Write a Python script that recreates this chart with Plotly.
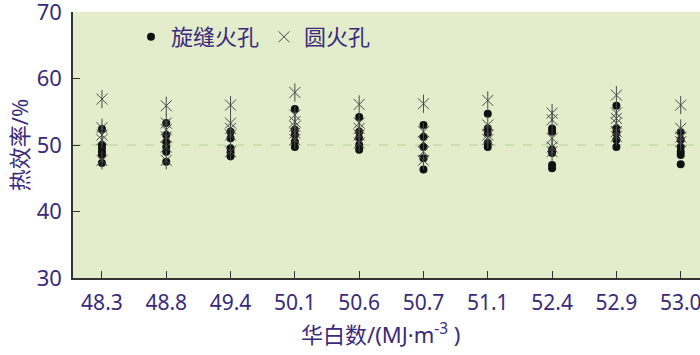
import plotly.graph_objects as go

categories = ["48.3", "48.8", "49.4", "50.1", "50.6", "50.7", "51.1", "52.4", "52.9", "53.0"]

slot_values = [
    [52.4, 50.0, 49.5, 49.0, 48.5, 47.3],
    [53.3, 51.5, 50.5, 49.7, 49.0, 47.5],
    [52.0, 51.0, 49.5, 48.9, 48.3],
    [55.4, 52.3, 51.5, 50.5, 49.7],
    [54.2, 52.0, 51.0, 50.0, 49.3],
    [53.0, 51.2, 49.7, 48.0, 46.3],
    [54.7, 52.5, 51.8, 50.3, 49.7],
    [52.5, 52.0, 49.3, 48.8, 47.0, 46.5],
    [55.9, 52.5, 51.8, 50.8, 49.7],
    [51.9, 50.8, 49.7, 49.0, 48.5, 47.1],
]

round_values = [
    [56.9, 52.6, 51.5, 50.8, 47.7],
    [55.9, 53.3, 52.3, 51.2, 49.7, 47.7],
    [56.0, 53.3, 52.5, 51.5, 49.0],
    [57.9, 54.5, 53.5, 52.8, 51.8, 50.8],
    [56.1, 53.3, 52.5, 51.5, 50.3],
    [56.2, 52.0, 50.5, 49.0, 47.7],
    [56.7, 53.0, 51.5, 50.8],
    [54.8, 53.8, 51.0, 49.7, 49.0],
    [57.5, 54.8, 54.0, 53.3, 52.0, 51.3],
    [56.0, 52.5, 51.2, 50.5],
]

y_ticks = [30, 40, 50, 60, 70]

series_names = ["旋缝火孔", "圆火孔"]

TXT = "#3a2a7a"
STAR = "#4a4a4a"
FONT = "Noto Sans, Noto Sans CJK SC, sans-serif"


def flatten(cats, vals):
    xs, ys = [], []
    for c, v in zip(cats, vals):
        for y in v:
            xs.append(c)
            ys.append(y)
    return xs, ys


sx, sy = flatten(categories, slot_values)
rx, ry = flatten(categories, round_values)

fig = go.Figure()
fig.add_trace(go.Scatter(
    x=sx, y=sy, mode="markers", name=series_names[0],
    marker=dict(symbol="circle", size=8, color="#111111"),
))
fig.add_trace(go.Scatter(
    x=rx, y=ry, mode="markers", name=series_names[1], legendgroup="round",
    marker=dict(symbol="x-thin-open", size=11, color=STAR,
                line=dict(color=STAR, width=1)),
))
fig.add_trace(go.Scatter(
    x=rx, y=ry, mode="markers", name=series_names[1], legendgroup="round",
    showlegend=False, hoverinfo="skip",
    marker=dict(symbol="line-ns-open", size=13, color=STAR,
                line=dict(color=STAR, width=1)),
))

fig.add_hline(y=50, line=dict(color="#b5d196", width=1, dash="dash"), layer="below")

fig.update_layout(
    width=700, height=355,
    margin=dict(l=73, r=0, t=12, b=77),
    paper_bgcolor="white",
    plot_bgcolor="#e3edcc",
    font=dict(family=FONT, color=TXT, size=22),
    showlegend=True,
    legend=dict(
        orientation="h", x=0.0925, y=0.985, xanchor="left", yanchor="top",
        bgcolor="rgba(0,0,0,0)", font=dict(size=22, color=TXT),
        itemwidth=30, tracegroupgap=0,
    ),
    xaxis=dict(
        type="category", categoryorder="array", categoryarray=categories,
        range=[-0.45, 9.3], automargin=False,
        showline=True, linecolor="#333333", linewidth=1.5,
        ticks="inside", ticklen=7, tickcolor="#333333", tickwidth=1,
        showgrid=False, zeroline=False,
        tickfont=dict(size=21, color=TXT),
        ticklabelstandoff=5,
    ),
    yaxis=dict(
        range=[30, 70], tickvals=y_ticks, automargin=False,
        showline=True, linecolor="#333333", linewidth=1.5,
        ticks="inside", ticklen=7, tickcolor="#333333", tickwidth=1,
        showgrid=False, zeroline=False,
        tickfont=dict(size=22, color=TXT),
        ticklabelstandoff=5, ticklabeloverflow="allow",
        title=dict(text="热效率/%", font=dict(size=22, color=TXT), standoff=2),
    ),
    annotations=[dict(
        text="华白数/(MJ·m<sup>-3</sup> )", xref="paper", yref="paper",
        x=0.491, y=-0.207, xanchor="center", yanchor="middle",
        showarrow=False, font=dict(size=22, color=TXT),
    )],
)

fig.write_html("out.html", config={"displayModeBar": False},
               post_script="document.body.style.margin='0px';")
